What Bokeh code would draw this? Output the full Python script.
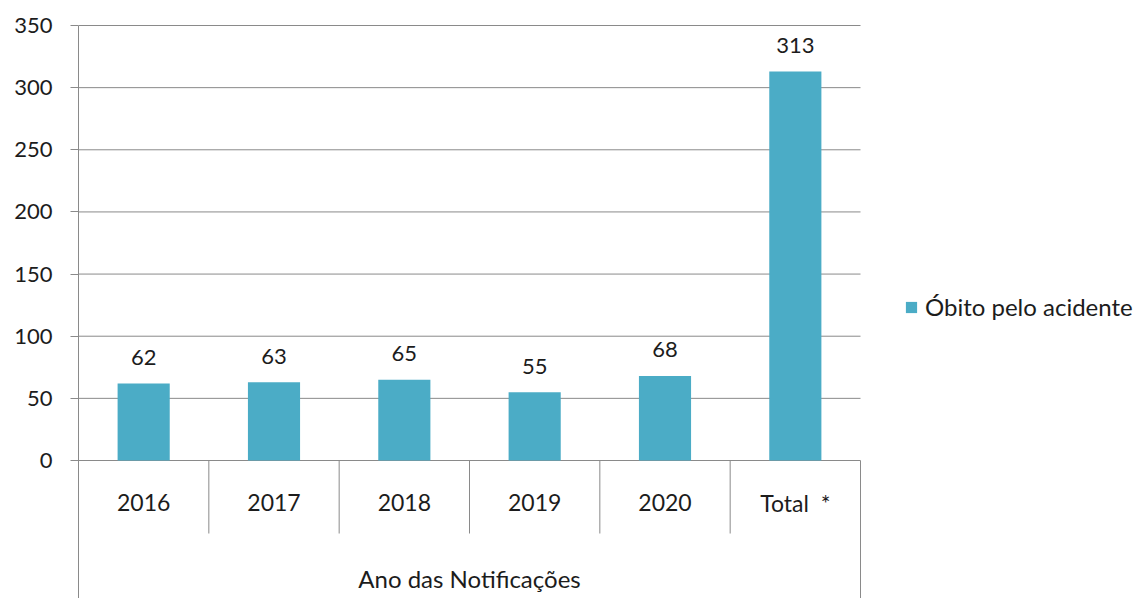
from bokeh.plotting import figure
from bokeh.models import Range1d, FixedTicker, Legend, LegendItem, ColumnDataSource
from bokeh.core.properties import value
from bokeh.embed import file_html
from bokeh.resources import INLINE

categories = ["2016", "2017", "2018", "2019", "2020", "Total\u00a0\u00a0*"]
values = [62, 63, 65, 55, 68, 313]
y_ticks = [0, 50, 100, 150, 200, 250, 300, 350]
series_name = "Óbito pelo acidente"
axis_title = "Ano das Notificações"

FONT = "Lato"
FS = "22px"
GRAY = "#8a8a8a"
TEXT = "#1c1c1c"
BAR = "#4BACC6"

# layout geometry (pixels)
frame_left, frame_top = 78, 15
plot_w = 782                     # width of the category area
frame_w = 1141 - frame_left
frame_h = 598 - frame_top
px_per_unit = 435 / 350.0
y_top = 350 + 10 / px_per_unit
y_bottom = y_top - frame_h / px_per_unit
n = len(categories)
x_end = n * frame_w / plot_w

p = figure(
    frame_width=frame_w, frame_height=frame_h,
    x_range=Range1d(0, x_end), y_range=Range1d(y_bottom, y_top),
    output_backend="svg", toolbar_location=None,
    x_axis_location=None,
    min_border_left=frame_left, min_border_top=frame_top,
    min_border_right=0, min_border_bottom=0,
)
p.outline_line_color = None
p.background_fill_color = "white"
p.border_fill_color = "white"
p.xgrid.visible = False
p.ygrid.visible = False

ax = p.yaxis[0]
ax.ticker = FixedTicker(ticks=y_ticks)
ax.bounds = (y_bottom, 350)
ax.minor_tick_line_color = None
ax.major_tick_in = 0
ax.major_tick_out = 8
ax.major_tick_line_color = GRAY
ax.axis_line_color = GRAY
ax.major_label_standoff = 18
ax.major_label_text_font = FONT
ax.major_label_text_font_size = FS
ax.major_label_text_color = TEXT

# horizontal gridlines over the category area
p.segment(x0=[0] * len(y_ticks), y0=y_ticks, x1=[n] * len(y_ticks), y1=y_ticks,
          line_color=GRAY, line_width=1)

xs = [i + 0.5 for i in range(n)]
src = ColumnDataSource(dict(x=xs, top=values, lab=[str(v) for v in values], cat=categories))

bars = p.vbar(x="x", top="top", width=0.4, bottom=0, source=src,
              fill_color=BAR, line_color=None)

p.text(x="x", y="top", text="lab", source=src, text_align="center",
       text_baseline="alphabetic", y_offset=-26, text_font=value(FONT),
       text_font_size=FS, text_color=TEXT)

# category labels
cat_y = -42 / px_per_unit
p.text(x="x", y=cat_y, text="cat", source=src, text_align="center",
       text_baseline="middle", text_font=value(FONT), text_font_size="23px",
       text_color=TEXT)

# separators between categories and right border
sep_x = list(range(1, n))
sep_y = -73 / px_per_unit
p.segment(x0=sep_x, y0=[0] * len(sep_x), x1=sep_x, y1=[sep_y] * len(sep_x),
          line_color=GRAY, line_width=1)
p.segment(x0=[n], y0=[0], x1=[n], y1=[y_bottom], line_color=GRAY, line_width=1)

# axis title
p.text(x=[n / 2.0], y=[-118 / px_per_unit], text=[axis_title], text_align="center",
       text_baseline="middle", text_font=value(FONT), text_font_size="24px",
       text_color=TEXT)

legend = Legend(items=[LegendItem(label=series_name, renderers=[bars])],
                location=(826, 277), orientation="vertical")
legend.border_line_color = None
legend.background_fill_alpha = 0
legend.padding = 0
legend.margin = 0
legend.glyph_width = 14
legend.glyph_height = 14
legend.label_standoff = 7
legend.label_text_font = FONT
legend.label_text_font_size = "24px"
legend.label_text_color = TEXT
p.add_layout(legend, "center")

open("out.html", "w").write(file_html(p, INLINE))
